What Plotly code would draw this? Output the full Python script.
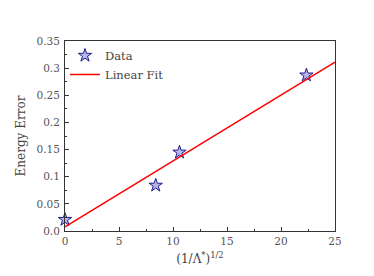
import plotly.graph_objects as go

data_x = [0.0, 8.4, 10.6, 22.35]
data_y = [0.021, 0.084, 0.145, 0.287]

fit_x = [0.0, 25.0]
fit_y = [0.0075, 0.311]

x_tickvals = [0, 5, 10, 15, 20, 25]
x_ticktext = ["0", "5", "10", "15", "20", "25"]
y_tickvals = [0, 0.05, 0.1, 0.15, 0.2, 0.25, 0.3, 0.35]
y_ticktext = ["0.0", "0.05", "0.1", "0.15", "0.2", "0.25", "0.3", "0.35"]

FONT = "DejaVu Serif"

fig = go.Figure()
fig.add_trace(go.Scatter(
    x=data_x, y=data_y, mode="markers", name="Data", cliponaxis=False,
    marker=dict(symbol="star", size=10, color="rgba(110,110,210,0.5)",
                line=dict(color="#1c1c8a", width=1)),
))
fig.add_trace(go.Scatter(
    x=fit_x, y=fit_y, mode="lines", name="Linear Fit",
    line=dict(color="#ff0000", width=1.5),
))

axis_common = dict(
    showgrid=False, zeroline=False, showline=True, linecolor="#333333",
    linewidth=1, mirror=True, ticks="inside", ticklen=4, tickcolor="#333333",
    tickfont=dict(family=FONT, size=10.5, color="#555555"),
)

fig.update_xaxes(
    range=[0, 25], tickvals=x_tickvals, ticktext=x_ticktext,
    minor=dict(ticks="inside", ticklen=2, dtick=2.5, tickcolor="#333333"),
    title=dict(text="(1/Λ<sup>*</sup>)<sup>1/2</sup>", font=dict(family=FONT, size=12, color="#444444"), standoff=9),
    **axis_common,
)
fig.update_yaxes(
    range=[0, 0.35], tickvals=y_tickvals, ticktext=y_ticktext,
    minor=dict(ticks="inside", ticklen=2, dtick=0.025, tickcolor="#333333"),
    ticklabelstandoff=2,
    title=dict(text="Energy Error", font=dict(family=FONT, size=12, color="#444444"), standoff=8),
    **axis_common,
)

fig.update_layout(
    width=366, height=268,
    margin=dict(l=53, r=39, t=33, b=44),
    paper_bgcolor="white", plot_bgcolor="white",
    showlegend=True,
    legend=dict(x=0.0, y=1.0, xanchor="left", yanchor="top",
                bgcolor="rgba(0,0,0,0)", borderwidth=0,
                font=dict(family=FONT, size=11.5, color="#444444"),
                itemwidth=30, tracegroupgap=0),
)

fig.write_html("out.html")
